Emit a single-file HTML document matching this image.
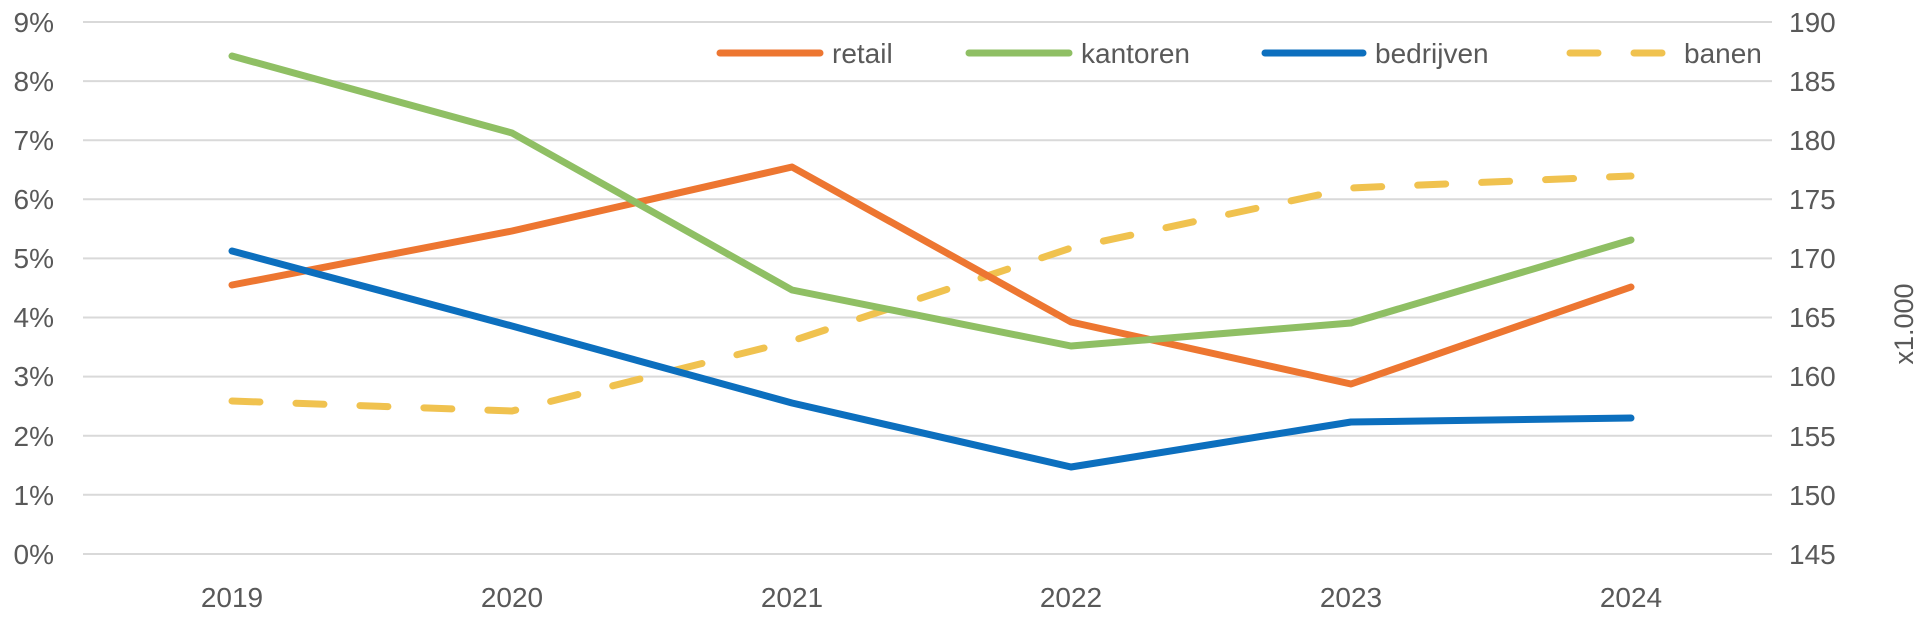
<!DOCTYPE html>
<html><head><meta charset="utf-8"><style>
html,body{margin:0;padding:0;background:#fff;}
svg{display:block;font-family:"Liberation Sans",sans-serif;}
</style></head><body>
<svg width="1919" height="623" viewBox="0 0 1919 623" xmlns="http://www.w3.org/2000/svg">
<g stroke="#d9d9d9" stroke-width="2">
<line x1="83" x2="1772" y1="22" y2="22"/><line x1="83" x2="1772" y1="81.1" y2="81.1"/>
<line x1="83" x2="1772" y1="140.2" y2="140.2"/><line x1="83" x2="1772" y1="199.3" y2="199.3"/>
<line x1="83" x2="1772" y1="258.4" y2="258.4"/><line x1="83" x2="1772" y1="317.5" y2="317.5"/>
<line x1="83" x2="1772" y1="376.6" y2="376.6"/><line x1="83" x2="1772" y1="435.7" y2="435.7"/>
<line x1="83" x2="1772" y1="494.8" y2="494.8"/><line x1="83" x2="1772" y1="554" y2="554"/>
</g>
<g fill="#595959" font-size="28" text-anchor="end">
<text x="54" y="32">9%</text><text x="54" y="91">8%</text><text x="54" y="150">7%</text>
<text x="54" y="209">6%</text><text x="54" y="268">5%</text><text x="54" y="327">4%</text>
<text x="54" y="386">3%</text><text x="54" y="446">2%</text><text x="54" y="505">1%</text>
<text x="54" y="564">0%</text>
</g>
<g fill="#595959" font-size="28" text-anchor="start">
<text x="1789" y="32">190</text><text x="1789" y="91">185</text><text x="1789" y="150">180</text>
<text x="1789" y="209">175</text><text x="1789" y="268">170</text><text x="1789" y="327">165</text>
<text x="1789" y="386">160</text><text x="1789" y="446">155</text><text x="1789" y="505">150</text>
<text x="1789" y="564">145</text>
</g>
<text x="0" y="0" transform="translate(1913,324) rotate(-90)" fill="#595959" font-size="27" text-anchor="middle">x1.000</text>
<g fill="#595959" font-size="28" text-anchor="middle">
<text x="232" y="607">2019</text><text x="512" y="607">2020</text><text x="792" y="607">2021</text>
<text x="1071" y="607">2022</text><text x="1351" y="607">2023</text><text x="1631" y="607">2024</text>
</g>
<g fill="none" stroke-width="7" stroke-linecap="round" stroke-linejoin="round">
<polyline stroke="#f0c24f" stroke-dasharray="28 36" points="232,401 512,411 792,341 1071,248 1351,188 1631,176"/>
<polyline stroke="#ed7631" points="232,285 512,231 792,167 1071,322 1351,384 1631,287"/>
<polyline stroke="#8fbf64" points="232,56 512,133 792,290 1071,346 1351,323 1631,240"/>
<polyline stroke="#0c6fbe" points="232,251 512,326 792,403 1071,467 1351,422 1631,418"/>
</g>
<g stroke-width="7" stroke-linecap="round">
<line x1="720" x2="820" y1="53" y2="53" stroke="#ed7631"/>
<line x1="969" x2="1069" y1="53" y2="53" stroke="#8fbf64"/>
<line x1="1265" x2="1363" y1="53" y2="53" stroke="#0c6fbe"/>
<line x1="1570" x2="1664" y1="53" y2="53" stroke="#f0c24f" stroke-dasharray="28 36"/>
</g>
<g fill="#595959" font-size="28">
<text x="832" y="63">retail</text><text x="1081" y="63">kantoren</text>
<text x="1375" y="63">bedrijven</text><text x="1684" y="63">banen</text>
</g>
</svg>
</body></html>
